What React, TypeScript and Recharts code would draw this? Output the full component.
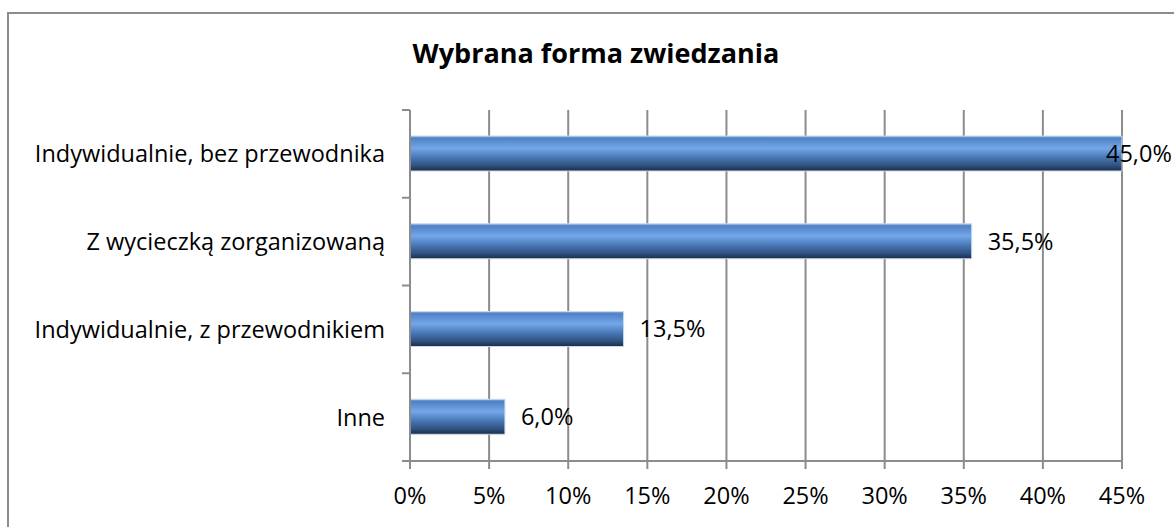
import React from 'react';
import { BarChart, Bar, XAxis, YAxis, CartesianGrid, LabelList } from 'recharts';

const categories = [
  'Indywidualnie, bez przewodnika',
  'Z wycieczką zorganizowaną',
  'Indywidualnie, z przewodnikiem',
  'Inne',
];
const values = [0.45, 0.355, 0.135, 0.06];
const xTicks = [0, 0.05, 0.1, 0.15, 0.2, 0.25, 0.3, 0.35, 0.4, 0.45];
const title = 'Wybrana forma zwiedzania';

const data = categories.map((c, i) => ({ name: c, value: values[i] }));

const FONT = '"Open Sans", Lato, sans-serif';
const FS = 23.5;
const GRID = '#8c8c8c';
const Y_TICK_SIZE = 8;
const Y_TICK_MARGIN = 17;

const fmtLabel = (v: number) => (v * 100).toFixed(1).replace('.', ',') + '%';

const BarLabel = (props: any) => {
  const { x, y, width, height, value } = props;
  const text = fmtLabel(value);
  const approxW = 68;
  let tx = x + width + 16;
  if (tx + approxW > 1174) tx = 1174 - approxW;
  return (
    <text x={tx} y={y + height / 2} dy="0.36em" fontFamily={FONT} fontSize={FS} fill="#000">
      {text}
    </text>
  );
};

const YTick = (props: any) => {
  const { x, y, payload, index, visibleTicksCount } = props;
  const half = payload && typeof payload.offset === 'number' ? payload.offset : 0;
  const lx1 = x + Y_TICK_MARGIN;
  const lx2 = x + Y_TICK_MARGIN + Y_TICK_SIZE;
  const isLast = index === (visibleTicksCount ?? categories.length) - 1;
  return (
    <g>
      <line x1={lx1} x2={lx2} y1={y - half} y2={y - half} stroke={GRID} strokeWidth={2} />
      {isLast && <line x1={lx1} x2={lx2} y1={y + half} y2={y + half} stroke={GRID} strokeWidth={2} />}
      <text x={x} y={y} dy="0.36em" textAnchor="end" fontFamily={FONT} fontSize={FS} fill="#000">
        {payload.value}
      </text>
    </g>
  );
};

export default function App() {
  return (
    <div style={{ position: 'absolute', left: 0, top: 0, width: 1174, height: 527, overflow: 'hidden', background: '#fff' }}>
      <div
        style={{
          position: 'absolute',
          left: 7,
          top: 12,
          width: 1300,
          height: 700,
          border: '2px solid #8c8c8c',
          boxSizing: 'border-box',
        }}
      />
      <div
        style={{
          position: 'absolute',
          left: 0,
          top: 35,
          width: 1192,
          textAlign: 'center',
          fontFamily: FONT,
          fontWeight: 'bold',
          fontSize: 27,
          lineHeight: '36px',
          color: '#000',
        }}
      >
        {title}
      </div>
      <div style={{ position: 'absolute', left: 0, top: 0 }}>
        <BarChart
          width={1174}
          height={527}
          data={data}
          layout="vertical"
          margin={{ top: 110, right: 52, bottom: 0, left: 0 }}
          barSize={35}
        >
          <defs>
            <linearGradient id="barGrad" x1="0" y1="0" x2="0" y2="1">
              <stop offset="0%" stopColor="#8fb3e3" />
              <stop offset="6%" stopColor="#4f81c4" />
              <stop offset="35%" stopColor="#74a7ea" />
              <stop offset="60%" stopColor="#4a7ab8" />
              <stop offset="85%" stopColor="#2f5180" />
              <stop offset="100%" stopColor="#1a2b45" />
            </linearGradient>
          </defs>
          <CartesianGrid horizontal={false} stroke={GRID} strokeWidth={2} />
          <XAxis
            type="number"
            domain={[0, 0.45]}
            ticks={xTicks}
            interval={0}
            tickFormatter={(v: number) => `${Math.round(v * 100)}%`}
            height={66}
            tickSize={8}
            tickMargin={18}
            stroke={GRID}
            strokeWidth={2}
            tick={{ fill: '#000', fontFamily: FONT, fontSize: FS }}
          />
          <YAxis
            type="category"
            dataKey="name"
            width={410}
            interval={0}
            tickLine={false}
            axisLine={{ stroke: GRID, strokeWidth: 2 }}
            tickSize={Y_TICK_SIZE}
            tickMargin={Y_TICK_MARGIN}
            tick={YTick}
          />
          <Bar dataKey="value" fill="url(#barGrad)" stroke="#c9d9ee" strokeWidth={1} isAnimationActive={false}>
            <LabelList dataKey="value" content={BarLabel} />
          </Bar>
        </BarChart>
      </div>
    </div>
  );
}
